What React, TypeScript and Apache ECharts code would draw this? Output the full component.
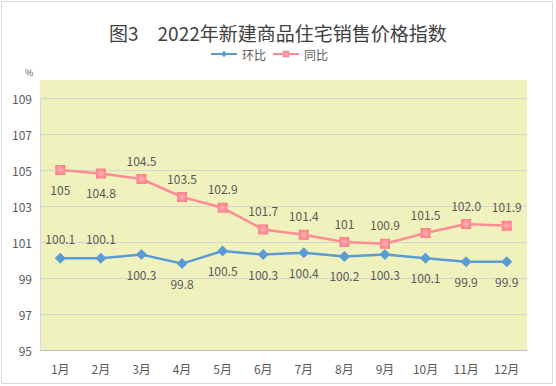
import React, { useEffect, useRef } from "react";
import * as echarts from "echarts";

const months = ["1月", "2月", "3月", "4月", "5月", "6月", "7月", "8月", "9月", "10月", "11月", "12月"];
const mom = [100.1, 100.1, 100.3, 99.8, 100.5, 100.3, 100.4, 100.2, 100.3, 100.1, 99.9, 99.9];
const momLabels = ["100.1", "100.1", "100.3", "99.8", "100.5", "100.3", "100.4", "100.2", "100.3", "100.1", "99.9", "99.9"];
const momLabelPos = ["top", "top", "bottom", "bottom", "bottom", "bottom", "bottom", "bottom", "bottom", "bottom", "bottom", "bottom"];
const yoy = [105, 104.8, 104.5, 103.5, 102.9, 101.7, 101.4, 101, 100.9, 101.5, 102.0, 101.9];
const yoyLabels = ["105", "104.8", "104.5", "103.5", "102.9", "101.7", "101.4", "101", "100.9", "101.5", "102.0", "101.9"];
const yoyLabelPos = ["bottom", "bottom", "top", "top", "top", "top", "top", "top", "top", "top", "top", "top"];

const FONT = "'Noto Sans CJK SC', 'Noto Sans', sans-serif";
const TXT = "#595959";
const BG = "#F0F2BE";

export default function App() {
  const ref = useRef<HTMLDivElement>(null);
  useEffect(() => {
    if (!ref.current) return;
    const chart = echarts.init(ref.current, undefined, { renderer: "svg" });
    const mkData = (vals: number[], labels: string[], pos: string[], dist: number) =>
      vals.map((v, i) => ({
        value: v,
        label: { show: true, position: pos[i], distance: dist, formatter: labels[i] },
      }));
    chart.setOption({
      animation: false,
      backgroundColor: "#fff",
      textStyle: { fontFamily: FONT },
      title: {
        text: "图3　2022年新建商品住宅销售价格指数",
        left: 104,
        top: 18,
        textStyle: { fontSize: 19, fontWeight: "normal", color: "#404040", fontFamily: FONT },
      },
      legend: {
        top: 43,
        left: 205,
        itemWidth: 26,
        itemHeight: 8,
        itemGap: 6,
        textStyle: { fontSize: 12, color: TXT, fontFamily: FONT },
        data: ["环比", "同比"],
      },
      grid: {
        left: 40,
        right: 29,
        top: 98,
        bottom: 36,
        show: true,
        backgroundColor: BG,
        borderWidth: 0,
      },
      graphic: [
        { type: "rect", z: -1, shape: { x: 40, y: 80, width: 487, height: 18 }, style: { fill: BG } },
        { type: "rect", shape: { x: 1.5, y: 1.5, width: 551, height: 382 }, style: { fill: "none", stroke: "#D9D9D9", lineWidth: 1 } },
        { type: "text", x: 25, y: 68, style: { text: "%", fontSize: 9, fill: TXT, fontFamily: FONT } },
      ],
      xAxis: {
        type: "category",
        data: months,
        boundaryGap: true,
        axisLine: { show: true, lineStyle: { color: "#BFBFBF" } },
        axisTick: { show: false },
        axisLabel: { color: TXT, fontSize: 12, margin: 12, fontFamily: FONT },
      },
      yAxis: {
        type: "value",
        min: 95,
        max: 109,
        interval: 2,
        axisLine: { show: true, lineStyle: { color: "#D9D9D9" } },
        axisTick: { show: false },
        axisLabel: { color: TXT, fontSize: 12, margin: 8, fontFamily: FONT },
        splitLine: { show: true, lineStyle: { color: "#D4D4D4", width: 1 } },
      },
      series: [
        {
          name: "环比",
          type: "line",
          data: mkData(mom, momLabels, momLabelPos, 8),
          symbol: "diamond",
          symbolSize: 11,
          lineStyle: { color: "#5B9BD5", width: 2.5 },
          itemStyle: { color: "#5B9BD5" },
          label: { color: TXT, fontSize: 12, fontFamily: FONT },
        },
        {
          name: "同比",
          type: "line",
          data: mkData(yoy, yoyLabels, yoyLabelPos, 8),
          symbol: "rect",
          symbolSize: 10,
          lineStyle: { color: "#FF8C94", width: 2.5 },
          itemStyle: {
            color: new echarts.graphic.RadialGradient(0.5, 0.5, 0.7, [
              { offset: 0, color: "#FFB3B8" },
              { offset: 1, color: "#FF6F7A" },
            ]),
          },
          label: { color: TXT, fontSize: 12, fontFamily: FONT },
        },
      ],
    });
    return () => chart.dispose();
  }, []);
  return (
    <div
      ref={ref}
      style={{ position: "fixed", left: 0, top: 0, width: 556, height: 386 }}
    />
  );
}
